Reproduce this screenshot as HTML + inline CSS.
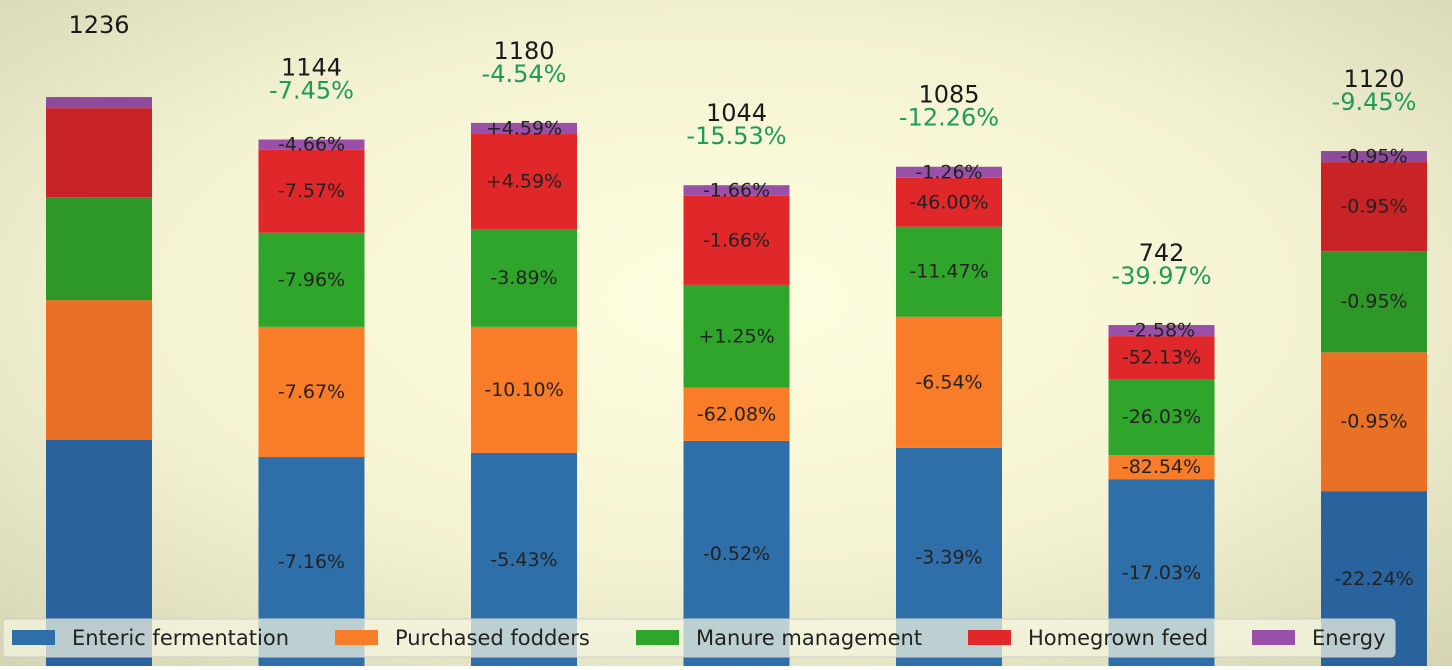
<!DOCTYPE html>
<html><head><meta charset="utf-8"><style>
html,body{margin:0;padding:0}
body{width:1452px;height:666px;overflow:hidden;font-family:"DejaVu Sans","Liberation Sans",sans-serif;}
</style></head><body>
<svg id="chart" width="1452" height="666" xmlns="http://www.w3.org/2000/svg">
<defs>
<radialGradient id="bg" cx="50%" cy="45%" r="75%">
<stop offset="0" stop-color="#fffee0"/><stop offset="0.55" stop-color="#f3f2d2"/><stop offset="1" stop-color="#d4d3b2"/>
</radialGradient>
</defs>
<rect width="1452" height="666" fill="url(#bg)"/>
<g id="bars"></g>
<g id="legend"></g>
</svg>
<script>
const categories = ["Base","S1","S2","S3","S4","S5","S6"];
const seriesNames = ["Enteric fermentation","Purchased fodders","Manure management","Homegrown feed","Energy"];
const enteric = [492,455,464,490,475,407,381];
const purchased = [303,282,273,115,284,52,301];
const manure = [223,204,212,223,195,165,219];
const homegrown = [193,180,206,193,106,93,193];
const energy = [24,22,24,23,24,24,24];
const totals = ["1236","1144","1180","1044","1085","742","1120"];
const changes = ["","-7.45%","-4.54%","-15.53%","-12.26%","-39.97%","-9.45%"];
const entericLbl = ["","-7.16%","-5.43%","-0.52%","-3.39%","-17.03%","-22.24%"];
const purchasedLbl = ["","-7.67%","-10.10%","-62.08%","-6.54%","-82.54%","-0.95%"];
const manureLbl = ["","-7.96%","-3.89%","+1.25%","-11.47%","-26.03%","-0.95%"];
const homegrownLbl = ["","-7.57%","+4.59%","-1.66%","-46.00%","-52.13%","-0.95%"];
const energyLbl = ["","-4.66%","+4.59%","-1.66%","-1.26%","-2.58%","-0.95%"];

const colors = ["#2e6faa","#f97c28","#2fa52b","#e0282a","#9a50a8"];
const darkColors = ["#28639d","#e87126","#2d9828","#c82326","#8e4a9c"];
const darkBars = [0,6];
const series = [enteric,purchased,manure,homegrown,energy];
const seriesLbl = [entericLbl,purchasedLbl,manureLbl,homegrownLbl,energyLbl];
const segNames = ["enteric","purchased","manure","homegrown","energy"];

const baseY = 667, pxPerUnit = 0.4615;
const x0 = 99, step = 212.5, bw = 106;
const xC = i => x0 + i*step;
const yS = v => baseY - v*pxPerUnit;
const NS = "http://www.w3.org/2000/svg";
const g = document.getElementById("bars");
function txt(parent, x, y, s, size, fill){
  const t = document.createElementNS(NS,"text");
  t.setAttribute("x",x); t.setAttribute("y",y);
  t.setAttribute("text-anchor","middle"); t.setAttribute("font-size",size);
  t.setAttribute("fill",fill); t.textContent = s; parent.appendChild(t); return t;
}
categories.forEach((c,i)=>{
  let cum = 0;
  series.forEach((arr,k)=>{
    const v = arr[i];
    const y1 = yS(cum), y2 = yS(cum+v);
    const r = document.createElementNS(NS,"rect");
    r.setAttribute("x", xC(i)-bw/2); r.setAttribute("y", y2);
    r.setAttribute("width", bw); r.setAttribute("height", y1-y2);
    r.setAttribute("fill", darkBars.includes(i) ? darkColors[k] : colors[k]);
    
    
    g.appendChild(r);
    const l = seriesLbl[k][i];
    if (l) {
      const t = txt(g, xC(i), (y1+y2)/2 + 6, l, 19, "#222");
      
      
    }
    cum += v;
  });
  const top = yS(cum);
  const t1 = txt(g, xC(i), top-64, totals[i], 24, "#1a1a1a");
  
  
  if (changes[i]) {
    const t2 = txt(g, xC(i), top-41, changes[i], 24, "#1f9a5a");
    
    
  }
});
const lg = document.getElementById("legend");
const box = document.createElementNS(NS,"rect");
box.setAttribute("x",3); box.setAttribute("y",619); box.setAttribute("width",1392); box.setAttribute("height",38);
box.setAttribute("rx",4); box.setAttribute("fill","rgba(245,245,225,0.72)"); box.setAttribute("stroke","#ccc");


lg.appendChild(box);
const lx = [12,335,636,968,1252];
seriesNames.forEach((n,k)=>{
  const r = document.createElementNS(NS,"rect");
  r.setAttribute("x",lx[k]); r.setAttribute("y",630); r.setAttribute("width",43); r.setAttribute("height",15);
  r.setAttribute("fill",colors[k]);
  
  
  lg.appendChild(r);
  const t = txt(lg, lx[k]+60, 645, n, 21, "#222");
  t.setAttribute("text-anchor","start");
  
  
});
</script>
</body></html>
